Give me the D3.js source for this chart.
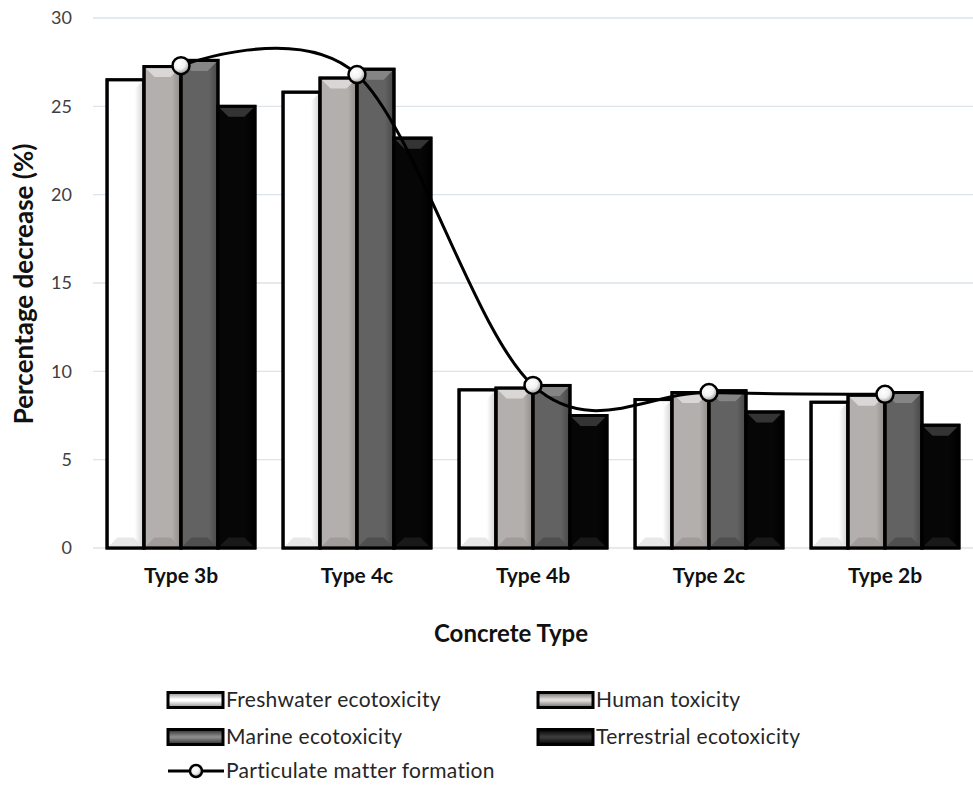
<!DOCTYPE html>
<html>
<head>
<meta charset="utf-8">
<script src="https://cdn.jsdelivr.net/npm/d3@7"></script>
<style>
  html, body { margin: 0; padding: 0; background: #fff; }
  svg { display: block; font-family: Lato, "Open Sans", sans-serif; }
</style>
</head>
<body>
<svg id="chart" width="973" height="786"></svg>
<script>
// Concrete types along the x axis
const categories = ["Type 3b", "Type 4c", "Type 4b", "Type 2c", "Type 2b"];

// Bar series (percentage decrease, %)
const freshwater  = [26.5, 25.8, 8.95, 8.4, 8.25];
const human       = [27.25, 26.6, 9.05, 8.8, 8.65];
const marine      = [27.6, 27.1, 9.2, 8.9, 8.8];
const terrestrial = [25.0, 23.2, 7.5, 7.7, 6.95];

// Line series
const particulate = [27.3, 26.8, 9.2, 8.8, 8.7];

const yTicks = [0, 5, 10, 15, 20, 25, 30];

const barSeries = [
  { name: "Freshwater ecotoxicity",  values: freshwater,  base: "#ffffff", edge: "#d0d0d0", bevel: "#ffffff", low: "#e6e6e6", dark: "#8a8a8a" },
  { name: "Human toxicity",          values: human,       base: "#b3afad", edge: "#8f8b89", bevel: "#dedad9", low: "#9e9a98", dark: "#6a6766" },
  { name: "Marine ecotoxicity",      values: marine,      base: "#626262", edge: "#474747", bevel: "#8a8a8a", low: "#4e4e4e", dark: "#2a2a2a" },
  { name: "Terrestrial ecotoxicity", values: terrestrial, base: "#060606", edge: "#000000", bevel: "#3a3a3a", low: "#1c1c1c", dark: "#000000" }
];

const svg = d3.select("#chart");
const margin = { left: 93, right: 973, top: 18, bottom: 548 };

const x0 = d3.scaleBand().domain(categories).range([margin.left, margin.right]).padding(0);
const x1 = d3.scaleBand().domain(barSeries.map(s => s.name))
  .range([0, x0.bandwidth()]).paddingOuter(0.38).paddingInner(0);
const y = d3.scaleLinear().domain([0, 30]).range([margin.bottom, margin.top]);

// Gradients for the bevelled bars and legend swatches
const defs = svg.append("defs");
barSeries.forEach((s, i) => {
  const g = defs.append("linearGradient").attr("id", "bar" + i)
    .attr("x1", "0").attr("x2", "1").attr("y1", "0").attr("y2", "0");
  g.append("stop").attr("offset", "0").attr("stop-color", s.base);
  g.append("stop").attr("offset", "0.75").attr("stop-color", s.base);
  g.append("stop").attr("offset", "1").attr("stop-color", s.edge);
  const sw = defs.append("linearGradient").attr("id", "sw" + i)
    .attr("x1", "0").attr("x2", "0").attr("y1", "0").attr("y2", "1");
  sw.append("stop").attr("offset", "0").attr("stop-color", s.dark);
  sw.append("stop").attr("offset", "0.45").attr("stop-color", s.bevel);
  sw.append("stop").attr("offset", "0.55").attr("stop-color", s.bevel);
  sw.append("stop").attr("offset", "1").attr("stop-color", s.dark);
});
const rg = defs.append("radialGradient").attr("id", "marker")
  .attr("cx", "0.4").attr("cy", "0.35").attr("r", "0.65");
rg.append("stop").attr("offset", "0").attr("stop-color", "#ffffff");
rg.append("stop").attr("offset", "0.55").attr("stop-color", "#f2f2f2");
rg.append("stop").attr("offset", "1").attr("stop-color", "#9a9a9a");

// Gridlines
svg.append("g").selectAll("line").data(yTicks).join("line")
  .attr("x1", margin.left).attr("x2", margin.right)
  .attr("y1", d => y(d)).attr("y2", d => y(d))
  .attr("stroke", "#dde3ea").attr("stroke-width", 1.3);

// Y axis labels
const yAxis = d3.axisLeft(y).tickValues(yTicks).tickSize(0).tickPadding(0);
svg.append("g").attr("transform", "translate(72,0)").call(yAxis)
  .call(g => g.select(".domain").remove())
  .selectAll("text").attr("font-size", 18).attr("fill", "#404040")
  .attr("font-family", "Lato, sans-serif");

// X axis labels
const xAxis = d3.axisBottom(x0).tickSize(0).tickPadding(0);
svg.append("g").attr("transform", "translate(0,568)").call(xAxis)
  .call(g => g.select(".domain").remove())
  .selectAll("text").attr("font-size", 21).attr("font-weight", "bold")
  .attr("fill", "#111").attr("font-family", "Lato, sans-serif");

// Axis titles
svg.append("text").attr("x", 511).attr("y", 642).attr("text-anchor", "middle")
  .attr("font-size", 24).attr("font-weight", "bold").attr("fill", "#111")
  .text("Concrete Type");
svg.append("text").attr("transform", "translate(33,284) rotate(-90)")
  .attr("text-anchor", "middle").attr("font-size", 26).attr("font-weight", "bold")
  .attr("fill", "#111").text("Percentage decrease (%)");

// Draws one bevelled bar
function bevelBar(g, x, yTop, w, h, s, i) {
  const bw = 3;
  g.append("rect").attr("x", x).attr("y", yTop).attr("width", w).attr("height", h)
    .attr("fill", "url(#bar" + i + ")").attr("stroke", "#000").attr("stroke-width", bw);
  const b = Math.min(9, h / 3);
  const xi = x + bw / 2, xr = x + w - bw / 2, yt = yTop + bw / 2, yb = yTop + h - bw / 2;
  g.append("polygon")
    .attr("points", [[xi, yt], [xr, yt], [xr - b, yt + b], [xi + b, yt + b]].map(p => p.join(",")).join(" "))
    .attr("fill", s.bevel).attr("opacity", 0.9);
  g.append("polygon")
    .attr("points", [[xi, yb], [xr, yb], [xr - b, yb - b], [xi + b, yb - b]].map(p => p.join(",")).join(" "))
    .attr("fill", s.low).attr("opacity", 0.9);
  g.append("rect").attr("x", x).attr("y", yTop).attr("width", w).attr("height", h)
    .attr("fill", "none").attr("stroke", "#000").attr("stroke-width", bw);
}

// Bars
const barsG = svg.append("g");
categories.forEach((c, ci) => {
  barSeries.forEach((s, si) => {
    const v = s.values[ci];
    const bx = x0(c) + x1(s.name);
    bevelBar(barsG, bx, y(v), x1.bandwidth(), y(0) - y(v), s, si);
  });
});

// Smoothed line with markers
const cx = c => x0(c) + x0.bandwidth() / 2;
const line = d3.line().x((d, i) => cx(categories[i])).y(d => y(d))
  .curve(d3.curveCatmullRom.alpha(0));
svg.append("path").datum(particulate).attr("d", line)
  .attr("fill", "none").attr("stroke", "#000").attr("stroke-width", 3);
svg.append("g").selectAll("circle").data(particulate).join("circle")
  .attr("cx", (d, i) => cx(categories[i])).attr("cy", d => y(d)).attr("r", 8.5)
  .attr("fill", "url(#marker)").attr("stroke", "#000").attr("stroke-width", 2.5);

// Legend
const legendItems = [
  { s: 0, x: 168, y: 700 }, { s: 1, x: 538, y: 700 },
  { s: 2, x: 168, y: 737 }, { s: 3, x: 538, y: 737 }
];
const leg = svg.append("g");
legendItems.forEach(it => {
  const s = barSeries[it.s];
  const g = leg.append("g");
  g.append("rect").attr("x", it.x).attr("y", it.y - 7.5).attr("width", 55).attr("height", 15)
    .attr("fill", "url(#sw" + it.s + ")").attr("stroke", "#000").attr("stroke-width", 3);
  g.append("text").attr("x", it.x + 58).attr("y", it.y).attr("dy", "0.35em")
    .attr("font-size", 21).attr("letter-spacing", 0.3).attr("fill", "#262626").text(s.name);
});
{
  const g = leg.append("g");
  g.append("line").attr("x1", 168).attr("x2", 224).attr("y1", 771).attr("y2", 771)
    .attr("stroke", "#000").attr("stroke-width", 3);
  g.append("circle").attr("cx", 196).attr("cy", 771).attr("r", 6)
    .attr("fill", "url(#marker)").attr("stroke", "#000").attr("stroke-width", 2.5);
  g.append("text").attr("x", 226).attr("y", 771).attr("dy", "0.35em")
    .attr("font-size", 21).attr("letter-spacing", 0.3).attr("fill", "#262626").text("Particulate matter formation");
}
</script>
</body>
</html>
